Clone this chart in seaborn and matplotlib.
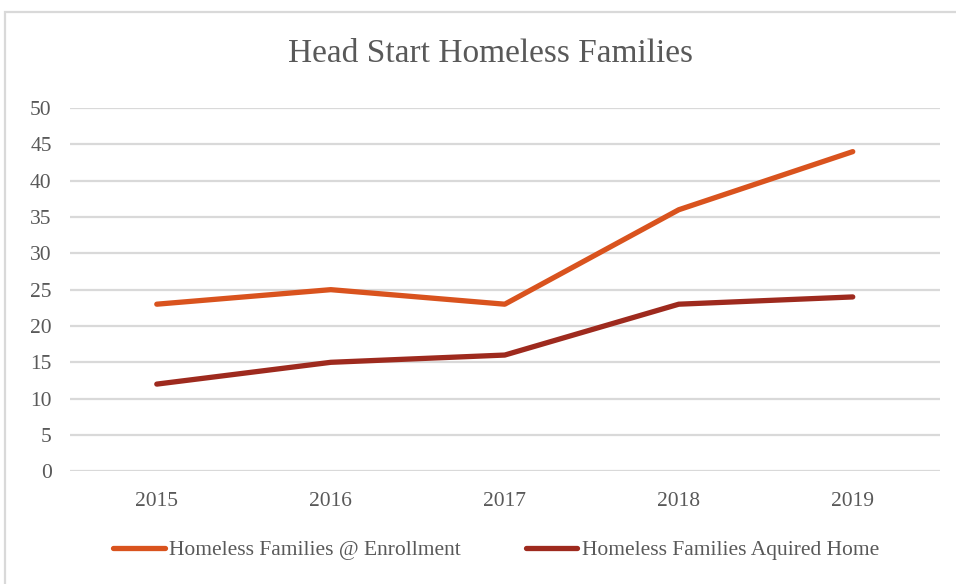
import pandas as pd
import seaborn as sns
import matplotlib.pyplot as plt
from matplotlib.patches import Rectangle

years = ['2015', '2016', '2017', '2018', '2019']
enrollment = [23, 25, 23, 36, 44]
aquired_home = [12, 15, 16, 23, 24]
series_names = ['Homeless Families @ Enrollment', 'Homeless Families Aquired Home']
colors = ['#D9531E', '#9E2A1E']

df = pd.DataFrame({
    'year': years * 2,
    'value': enrollment + aquired_home,
    'series': [series_names[0]] * len(years) + [series_names[1]] * len(years),
})

sns.set_style('white')
plt.rcParams['font.family'] = ['Liberation Serif', 'DejaVu Serif']

fig = plt.figure(figsize=(9.56, 5.84), dpi=100)
ax = fig.add_axes([0.073, 0.193, 0.910, 0.622])

# outer chart border (light gray, runs off right/bottom edge)
fig.patches.append(Rectangle((5 / 956, -0.1), 1.2, 1 - 12 / 584 + 0.1,
                             transform=fig.transFigure, fill=False,
                             edgecolor='#D9D9D9', linewidth=1.6, zorder=0))

sns.lineplot(data=df, x='year', y='value', hue='series', palette=colors,
             linewidth=3.8, ax=ax, sort=False, legend=True)
for line in ax.get_lines():
    line.set_solid_capstyle('round')

ax.set_xlim(-0.5, 4.5)
ax.set_ylim(0, 50)
ax.set_yticks(range(0, 51, 5))
ax.yaxis.grid(True, color='#D9D9D9', linewidth=1.6)
ax.set_axisbelow(True)
for s in ax.spines.values():
    s.set_visible(False)
ax.tick_params(axis='both', length=0, labelsize=15.5, labelcolor='#595959')
ax.tick_params(axis='y', pad=13)
ax.tick_params(axis='x', pad=15)
ax.set_xlabel('')
ax.set_ylabel('')

fig.text(0.513, 1 - 54 / 584, 'Head Start Homeless Families', ha='center', va='center',
         fontsize=24, color='#595959')

handles, labels = ax.get_legend_handles_labels()
leg = ax.legend(handles, labels, loc='center', bbox_to_anchor=(0.519, 1 - 550 / 584),
                bbox_transform=fig.transFigure, ncol=2, frameon=False,
                fontsize=15.5, handlelength=2.4, handletextpad=0.2, columnspacing=3.0)
for t in leg.get_texts():
    t.set_color('#595959')
for h in leg.get_lines():
    h.set_linewidth(3.8)
    h.set_solid_capstyle('round')

fig.savefig('out.png', dpi=100)
